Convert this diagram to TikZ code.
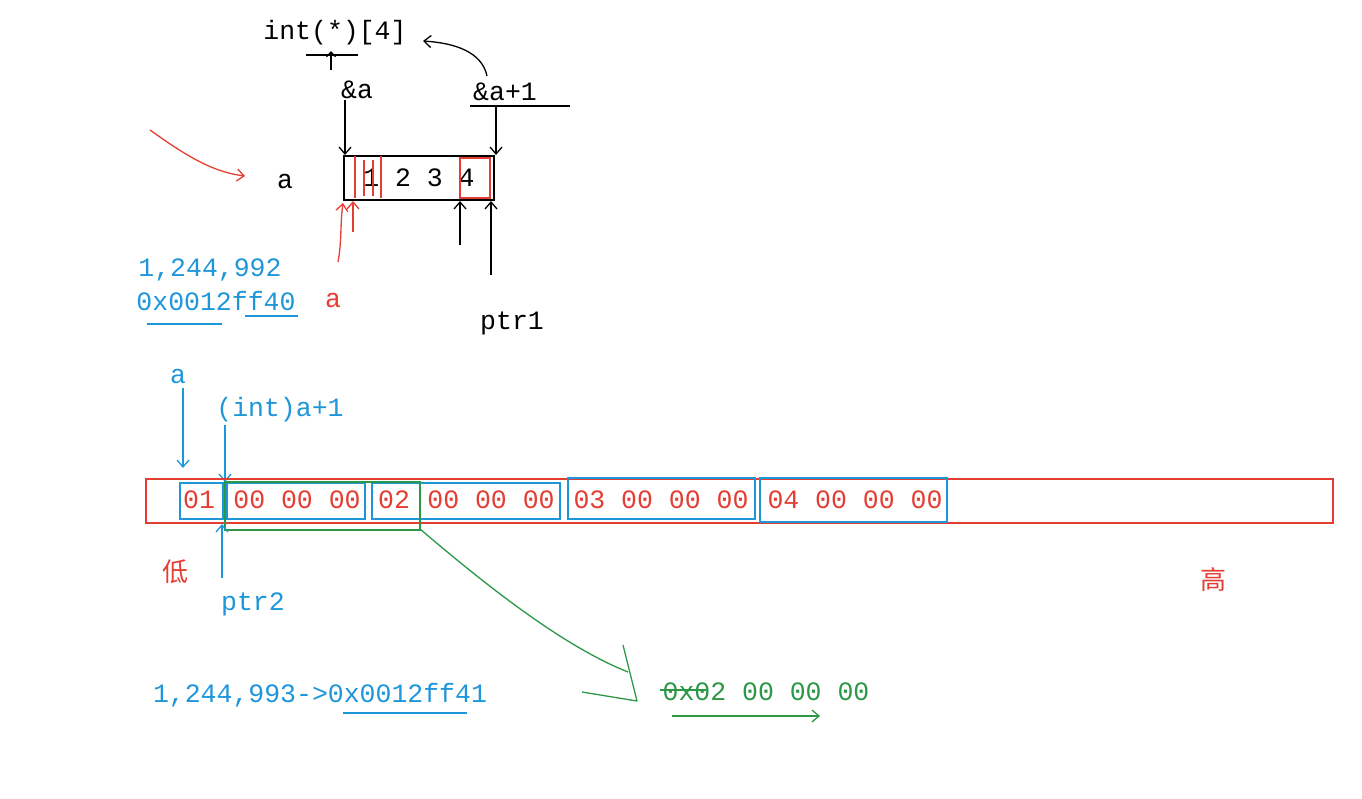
\documentclass[tikz,border=0pt]{standalone}
\usepackage{fontspec}
\setmonofont{Liberation Mono}
\newfontfamily\cjk{Noto Sans CJK SC}
\usetikzlibrary{arrows.meta}
\definecolor{myred}{RGB}{228,62,52}
\definecolor{myblue}{RGB}{30,150,218}
\definecolor{mygreen}{RGB}{44,152,70}
\tikzset{
  txt/.style={inner sep=0pt, font=\ttfamily\fontsize{26.5}{28}\selectfont},
  hand/.style={line width=1.3pt, -{Straight Barb[length=7pt,width=12pt]}},
  box/.style={draw, line width=2pt},
}
\begin{document}
\begin{tikzpicture}[x=1pt,y=-1pt]
\useasboundingbox[fill=white] (0,0) rectangle (1362,798);
% ---------- top part ----------
\node[txt] (intp) at (335,33) {int(*)[4]};
\node[txt] (refa) at (357,90) {\&a};
\node[txt] (refa1) at (505,92) {\&a+1};
\node[txt] (aname) at (285,181) {a};
\node[txt] (ptr1) at (512,323) {ptr1};
\coordinate (ul1a) at (306,55); \coordinate (ul1b) at (358,55);
\draw[line width=1.3pt] (ul1a) -- (ul1b);
\coordinate (sa1) at (331,70); \coordinate (sa2) at (331,51);
\draw[line width=1.2pt,-{Straight Barb[length=5pt,width=9pt]}] (sa1) -- (sa2);
\coordinate (ul2a) at (470,106); \coordinate (ul2b) at (570,106);
\draw[line width=1.3pt] (ul2a) -- (ul2b);
\coordinate (cstart) at (487,76); \coordinate (ctip) at (423,41);
\draw[hand] (cstart) .. controls (482,52) and (455,43) .. (ctip);
% array box
\node[box, minimum width=150pt, minimum height=44pt, anchor=north west] (arr) at (343,155) {};
\node[txt] (vals) at (419,178) {1 2 3 4};
\coordinate (d1) at (345,100); \coordinate (d2) at (496,106);
\draw[hand] (d1) -- (d1 |- arr.north);
\draw[hand] (d2) -- (d2 |- arr.north);
\draw[myred,line width=1.2pt] (355,156) -- (355,198) (364,160) -- (364,196) (373,160) -- (373,196) (381,156) -- (381,198);
\draw[myred,line width=1.8pt] (460,158) rectangle (490,198);
\coordinate (u1) at (460,245); \coordinate (u2) at (491,275);
\draw[hand] (u1) -- (u1 |- arr.south);
\draw[hand] (u2) -- (u2 |- arr.south);
% red marks
\coordinate (r1) at (150,130); \coordinate (r1t) at (245,176);
\draw[myred,hand] (r1) .. controls (185,155) and (212,172) .. (r1t);
\coordinate (r2) at (338,262); \coordinate (r2t) at (343,203);
\draw[myred,hand] (r2) .. controls (342,240) and (340,225) .. (r2t);
\coordinate (r3) at (353,232); \coordinate (r3t) at (353,201);
\draw[myred,hand] (r3) -- (r3t);
\node[txt,text=myred] (reda) at (333,300) {a};
% blue address
\node[txt,text=myblue] (dec1) at (210,270) {1,244,992};
\node[txt,text=myblue] (hex1) at (216,301) {0x0012ff40};
\draw[myblue,line width=1.5pt] (147,324) -- (222,324) (245,316) -- (298,316);
% ---------- bottom part ----------
\node[txt,text=myblue] (ba) at (178,376) {a};
\node[txt,text=myblue] (inta) at (280,410) {(int)a+1};
\coordinate (ba1) at (183,388); \coordinate (ba2) at (183,468);
\draw[myblue,hand] (ba1) -- (ba2);
\coordinate (ia1) at (225,425); \coordinate (ia2) at (225,482);
\draw[myblue,hand] (ia1) -- (ia2);
\node[draw=myred, line width=2pt, minimum width=1187pt, minimum height=44pt, anchor=north west, inner sep=0pt] (mem) at (145,478) {};
\draw[myblue,line width=2pt] (180,483) rectangle (223,519)
  (227,483) rectangle (365,519)
  (372,483) rectangle (560,519)
  (568,478) rectangle (755,519)
  (760,478) rectangle (947,522);
\draw[mygreen,line width=2pt] (225,482) rectangle (420,530);
\coordinate (gstart) at (420,529);
\node[txt,text=myred] (b01) at (199,500) {01};
\node[txt,text=myred] (b02) at (297,500) {00 00 00};
\node[txt,text=myred] (b03) at (394,500) {02};
\node[txt,text=myred] (b04) at (491,500) {00 00 00};
\node[txt,text=myred] (b05) at (661,500) {03 00 00 00};
\node[txt,text=myred] (b06) at (855,500) {04 00 00 00};
\node[inner sep=0pt,text=myred,font=\cjk\fontsize{26}{28}\selectfont] (low) at (175,572) {低};
\node[inner sep=0pt,text=myred,font=\cjk\fontsize{26}{28}\selectfont] (high) at (1213,580) {高};
\coordinate (p2) at (222,578); \coordinate (p2t) at (222,524);
\draw[myblue,hand] (p2) -- (p2t);
\node[txt,text=myblue] (ptr2) at (253,604) {ptr2};
\node[txt,text=myblue] (dec2) at (320,695) {1,244,993->0x0012ff41};
\draw[myblue,line width=1.5pt] (343,713) -- (467,713);
% green
\coordinate (gtip) at (637,701);
\coordinate (gend) at (628,672);
\coordinate (gb1) at (623,645); \coordinate (gb2) at (582,692);
\draw[mygreen,line width=1.3pt] (gstart) .. controls (480,580) and (560,645) .. (gend);
\draw[mygreen,line width=1.3pt,line join=round] (gb1) -- (gtip) -- (gb2);
\node[txt,text=mygreen] (gval) at (766,692) {0x02 00 00 00};
\draw[mygreen,line width=1.5pt] (660,690) -- (706,690);
\coordinate (ga1) at (672,716); \coordinate (ga2) at (820,716);
\draw[mygreen,hand] (ga1) -- (ga2);
\end{tikzpicture}
\end{document}
